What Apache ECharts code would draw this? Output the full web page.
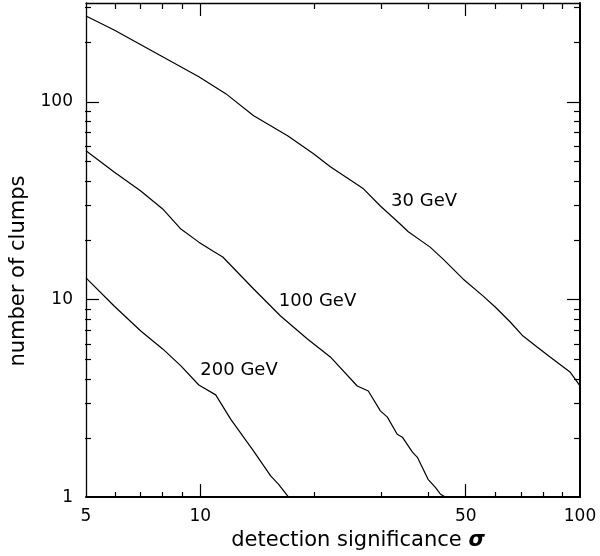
<!DOCTYPE html>
<html>
<head>
<meta charset="utf-8">
<script src="https://cdn.jsdelivr.net/npm/echarts@6/dist/echarts.min.js"></script>
<style>html,body{margin:0;padding:0;background:#fff}#c{width:600px;height:556px}</style>
</head>
<body>
<div id="c"></div>
<script>
// ---- data ----
const x30 = [5, 5.93, 7.87, 9.91, 11.67, 13.82, 16.98, 19.87, 22.0, 26.9, 29.8, 33.6, 35.3, 40.3, 43.6, 49.2, 55.6, 59.8, 65.5, 70.8, 77.1, 83.4, 94.1, 100];
const y30 = [272, 231, 171, 134, 110, 85, 67.3, 54.6, 46.9, 36.3, 29.7, 24.1, 22.0, 18.4, 16.0, 12.7, 10.4, 9.16, 7.69, 6.53, 5.75, 5.12, 4.30, 3.65];
const x100 = [5, 5.93, 6.97, 7.96, 8.89, 9.91, 10.79, 11.46, 13.82, 16.27, 19.15, 22.0, 25.9, 27.7, 29.8, 31.1, 33.0, 34.05, 36.2, 37.3, 39.8, 41.6, 42.9, 44.2];
const y100 = [56.5, 44.2, 35.4, 28.7, 22.7, 19.5, 17.6, 16.4, 11.3, 8.25, 6.31, 5.12, 3.65, 3.44, 2.73, 2.54, 2.08, 2.01, 1.69, 1.59, 1.23, 1.12, 1.035, 1.0];
const x200 = [5, 5.93, 6.97, 7.96, 8.89, 9.91, 10.98, 12.02, 13.82, 15.32, 16.08, 17.08];
const y200 = [12.85, 9.27, 6.93, 5.62, 4.61, 3.69, 3.29, 2.48, 1.71, 1.28, 1.16, 1.0];
const curveNames = ['30 GeV', '100 GeV', '200 GeV'];
const labelX = [31.8, 16.1, 10.0];
const labelY = [31.5, 9.8, 4.4];
const xTickLabels = [5, 10, 50, 100];
const yTickLabels = [1, 10, 100];
const xMajor = [10, 50];
const xMinor = [6, 7, 8, 9, 20, 30, 40, 60, 70, 80, 90];
const yMajor = [10, 100];
const yMinor = [2, 3, 4, 5, 6, 7, 8, 9, 20, 30, 40, 50, 60, 70, 80, 90, 200, 300];
const xMin = 5, xMax = 100, yMin = 1, yMax = Math.pow(10, 2.5);

// ---- chart ----
const FONT = 'DejaVu Sans';
const gridRect = {left: 85, right: 20, top: 3, bottom: 58};
const pairs = (xs, ys) => xs.map((v, i) => [v, ys[i]]);

function xAx(grid, pos, ticks, len, opts) {
  return Object.assign({
    type: 'log', logBase: 10, gridIndex: grid, position: pos, min: xMin, max: xMax,
    splitLine: {show: false},
    axisLine: {show: false},
    axisTick: {show: true, inside: true, length: len, customValues: ticks, lineStyle: {color: '#000', width: 1.2}},
    axisLabel: {show: false}
  }, opts || {});
}
function yAx(grid, pos, ticks, len, opts) {
  return Object.assign({
    type: 'log', logBase: 10, gridIndex: grid, position: pos, min: yMin, max: yMax,
    splitLine: {show: false},
    axisLine: {show: false},
    axisTick: {show: true, inside: true, length: len, customValues: ticks, lineStyle: {color: '#000', width: 1.2}},
    axisLabel: {show: false}
  }, opts || {});
}
const labelStyle = {show: true, color: '#000', fontFamily: FONT, fontSize: 17};

const option = {
  animation: false,
  backgroundColor: '#fff',
  grid: [Object.assign({}, gridRect), Object.assign({}, gridRect)],
  xAxis: [
    xAx(0, 'bottom', xMajor, 13, {
      axisLine: {show: true, onZero: false, lineStyle: {color: '#000', width: 2}},
      axisLabel: Object.assign({customValues: xTickLabels, margin: 11}, labelStyle),
      name: 'detection significance {s|σ}',
      nameLocation: 'middle', nameGap: 32,
      nameTextStyle: {color: '#000', fontFamily: FONT, fontSize: 21, padding: [0, 0, 0, 50],
        rich: {s: {fontFamily: FONT, fontSize: 21, fontWeight: 'bold', fontStyle: 'italic', color: '#000'}}}
    }),
    xAx(0, 'top', xMajor, 13, {axisLine: {show: true, onZero: false, lineStyle: {color: '#000', width: 1.3}}}),
    xAx(1, 'bottom', xMinor, 6),
    xAx(1, 'top', xMinor, 6)
  ],
  yAxis: [
    yAx(0, 'left', yMajor, 13, {
      axisLine: {show: true, onZero: false, lineStyle: {color: '#000', width: 1.3}},
      axisLabel: Object.assign({customValues: yTickLabels, margin: 13}, labelStyle),
      name: 'number of clumps',
      nameLocation: 'middle', nameGap: 57,
      nameTextStyle: {color: '#000', fontFamily: FONT, fontSize: 21, padding: [0, 42, 0, 0]}
    }),
    yAx(0, 'right', yMajor, 13, {axisLine: {show: true, onZero: false, lineStyle: {color: '#000', width: 2}}}),
    yAx(1, 'left', yMinor, 6),
    yAx(1, 'right', yMinor, 6)
  ],
  series: [
    [x30, y30], [x100, y100], [x200, y200]
  ].map((d, i) => ({
    type: 'line', name: curveNames[i], xAxisIndex: 0, yAxisIndex: 0,
    data: pairs(d[0], d[1]), showSymbol: false, symbol: 'none', smooth: false,
    lineStyle: {color: '#000', width: 1.2}
  })).concat([{
    type: 'scatter', xAxisIndex: 0, yAxisIndex: 0, symbolSize: 0,
    itemStyle: {color: '#000'},
    data: curveNames.map((n, i) => ({name: n, value: [labelX[i], labelY[i]]})),
    label: {show: true, position: 'right', distance: 0, formatter: '{b}', color: '#000', opacity: 1, fontFamily: FONT, fontSize: 18},
    silent: true
  }])
};
const chart = echarts.init(document.getElementById('c'), null, {renderer: 'canvas'});
chart.setOption(option);
</script>
</body>
</html>
